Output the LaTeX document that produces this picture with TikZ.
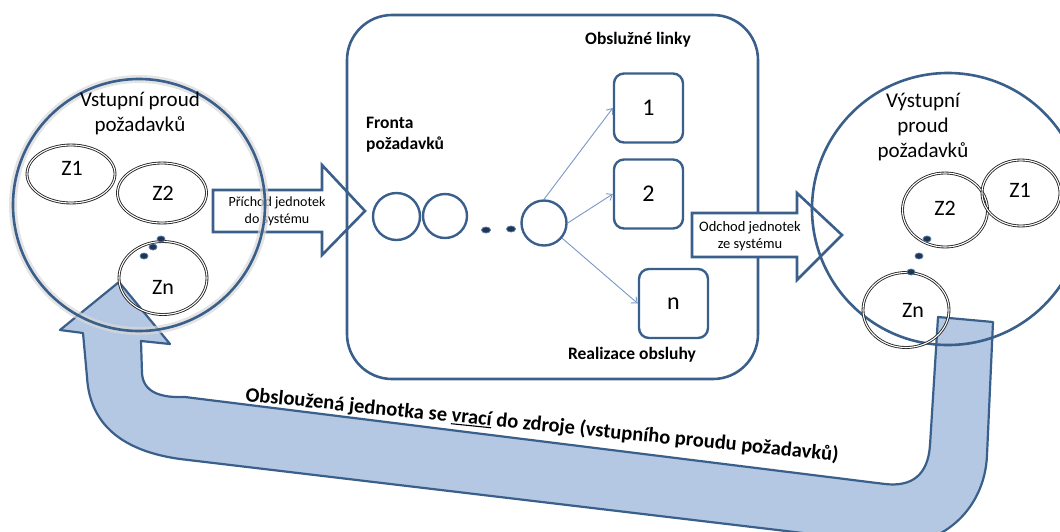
\documentclass[tikz,border=0pt]{standalone}
\usepackage{fontspec}
\setmainfont{Carlito}
\usetikzlibrary{shapes.geometric,arrows.meta}

\definecolor{edge}{HTML}{3A5F8B}
\definecolor{bandfill}{HTML}{B4C7E3}
\definecolor{thinblue}{HTML}{7898C4}
\definecolor{dotfill}{HTML}{1E3556}
\definecolor{dotedge}{HTML}{5577A3}

% underline drawn as a rule of chosen weight
\newcommand{\ulword}[1]{\setbox0\hbox{#1}\rlap{\rule[-2.3pt]{\wd0}{1.1pt}}\box0\relax}

\begin{document}
\begin{tikzpicture}[x=1pt,y=-1pt,
  outline/.style={draw=edge,line width=2.6pt},
  bigcircle/.style={outline,circle,inner sep=0pt},
  qcircle/.style={outline,circle,inner sep=0pt,line width=2.4pt},
  server/.style={outline,line width=2.4pt,rounded corners=10pt,minimum width=69pt,minimum height=69pt,inner sep=0pt,font=\fontsize{24}{26}\selectfont},
  zell/.style={ellipse,draw=black!88,line width=0.85pt,double=white,double distance=1.1pt,inner sep=0pt},
  zlabel/.style={font=\fontsize{22}{24}\selectfont,inner sep=0pt},
  title/.style={font=\fontsize{21}{25}\selectfont,align=center,inner sep=0pt},
  boldlabel/.style={font=\bfseries\fontsize{17.5}{21}\selectfont,inner sep=0pt},
  arrowtext/.style={font=\fontsize{14}{17}\selectfont,align=center,inner sep=0pt},
  dot/.style={ellipse,fill=dotfill,draw=dotedge,line width=0.8pt,minimum width=8pt,minimum height=6pt,inner sep=0pt},
  link/.style={draw=thinblue,line width=0.9pt,-{Straight Barb[length=5pt,width=8pt]}},
  blockarrow/.style={outline,fill=white,line join=miter},
  band/.style={draw=edge,line width=2.2pt,fill=bandfill,line join=round}
]
\useasboundingbox (0,0) rectangle (1060,531);
\clip (0,0) rectangle (1060,531);

% return path: U-shaped arrow back to the source
\path[band] (938,317) -- (993,322) -- (987,455)
  .. controls (985,510) and (940,550) .. (887,543)
  -- (180,459) .. controls (130,452) and (90,430) .. (87,377)
  -- (83,333) -- (60,330) -- (119,282) -- (170,344) -- (141,341) -- (142,373)
  .. controls (143,392) and (160,398) .. (185,397)
  -- (885,484) .. controls (912,487) and (928,475) .. (930,445) -- cycle;

% arrival arrow (drawn under the source circle and the system box)
\path[blockarrow] (213,190) -- (322,190) -- (322,165) -- (365,211) -- (322,255) -- (322,232) -- (213,232) -- cycle;
\node[arrowtext] (arrtext) at (277,211) {Příchod jednotek\\do systému};

% source of requests
\draw[gray!30,line width=8pt,opacity=0.7] (139,205) circle[radius=126];
\node[bigcircle,minimum size=252pt] (src) at (139,205) {};
\node[title] (srctitle) at (140,113) {Vstupní proud\\požadavků};
\node[zell,minimum width=88pt,minimum height=58pt] (lz1) at (71,174) {};
\node[zlabel] (lz1t) at (72,168) {Z1};
\node[zell,minimum width=89pt,minimum height=60pt] (lz2) at (162,193) {};
\node[zlabel] (lz2t) at (163,193) {Z2};
\node[zell,minimum width=88pt,minimum height=73pt] (lzn) at (163,278) {};
\node[zlabel] (lznt) at (163,287) {Zn};
\node[dot] (ld1) at (161,239) {};
\node[dot] (ld2) at (153,247) {};
\node[dot] (ld3) at (144,256) {};

% service system
\node[outline,rounded corners=45pt,minimum width=411pt,minimum height=364pt,inner sep=0pt] (sys) at (552.5,197) {};
\node[boldlabel] (linky) at (638,40) {Obslužné linky};
\node[boldlabel,align=left,anchor=west] (fronta) at (366,135) {Fronta\\požadavků};
\node[boldlabel] (realizace) at (632,355) {Realizace obsluhy};

\node[qcircle,minimum size=47pt] (q1) at (396.5,216.5) {};
\node[qcircle,minimum size=44pt] (q2) at (445,216) {};
\node[dot,minimum width=9pt,minimum height=6pt] (qd1) at (486,230) {};
\node[dot,minimum width=9pt,minimum height=6pt] (qd2) at (511,229) {};
\node[qcircle,minimum size=45pt] (q3) at (544,223) {};

\node[server] (s1) at (648.5,108) {1};
\node[server] (s2) at (648.5,194) {2};
\node[server] (sn) at (673.5,303.5) {n};

\draw[link] (q3.north) -- (s1.west);
\draw[link] (q3.east) -- (s2.west);
\draw[link] (q3.-40) -- (sn.west);

% departure arrow (covers the system box edge)
\path[blockarrow] (692,213) -- (797,213) -- (797,193) -- (842,235) -- (797,280) -- (797,257) -- (692,257) -- cycle;
\node[arrowtext,font=\fontsize{14.5}{17.5}\selectfont] (deptext) at (750,236) {Odchod jednotek\\ze systému};

% output stream
\node[bigcircle,minimum size=272pt] (out) at (948,209) {};
\node[title] (outtitle) at (923,127) {Výstupní\\proud\\požadavků};
\node[zell,minimum width=85pt,minimum height=74pt] (rz2) at (945,210) {};
\node[zlabel] (rz2t) at (945,208) {Z2};
\node[zell,minimum width=78pt,minimum height=66pt] (rz1) at (1021,193) {};
\node[zlabel] (rz1t) at (1020,190) {Z1};
\node[zell,minimum width=86pt,minimum height=75pt] (rzn) at (906,310) {};
\node[zlabel] (rznt) at (913,310) {Zn};
\node[dot] (rd1) at (927,239) {};
\node[dot] (rd2) at (919,256) {};
\node[dot] (rd3) at (911,272) {};

% caption of the return path
\node[rotate=-5.8,anchor=base west,font=\bfseries\fontsize{20.5}{23}\selectfont,inner sep=0pt] (ret) at (245,401)
  {Obsloužená jednotka se \ulword{vrací} do zdroje (vstupního proudu požadavků)};
\end{tikzpicture}
\end{document}
